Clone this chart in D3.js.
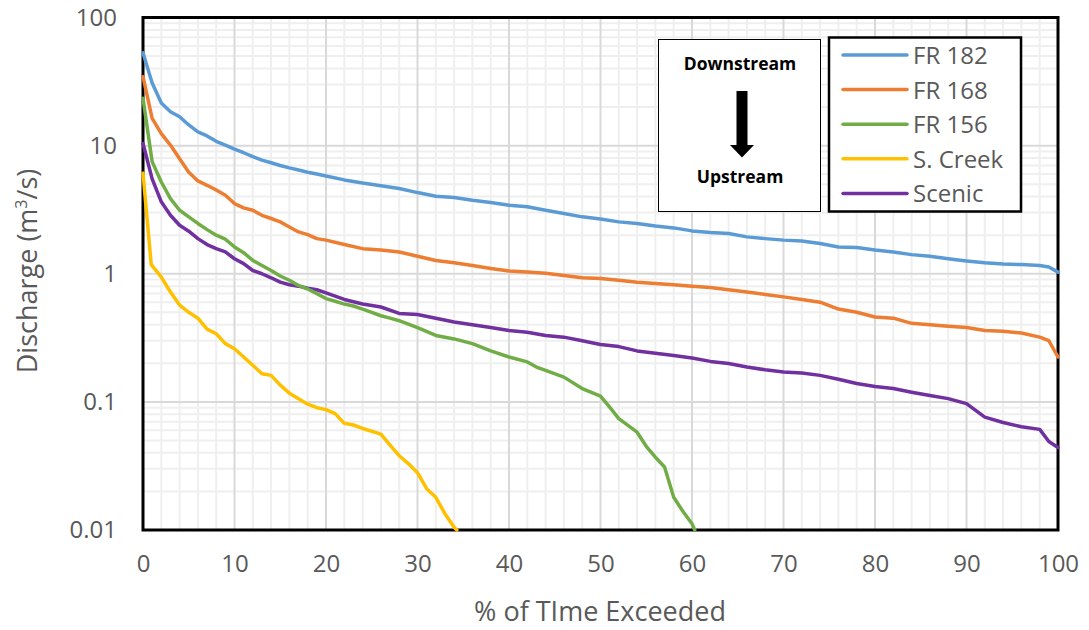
<!DOCTYPE html>
<html>
<head>
<meta charset="utf-8">
<script src="https://cdn.jsdelivr.net/npm/d3@7"></script>
<style>
  html, body { margin: 0; padding: 0; background: #fff; }
  svg { display: block; }
  text { font-family: "Open Sans", "Noto Sans", sans-serif; }
</style>
</head>
<body>
<svg id="chart" width="1089" height="630"></svg>
<script>
// ---------- data ----------
const seriesNames = ["FR 182", "FR 168", "FR 156", "S. Creek", "Scenic"];
const seriesColors = ["#5B9BD5", "#ED7D31", "#70AD47", "#FFC000", "#7030A0"];

const pctMain = [0,1,2,3,4,5,6,7,8,9,10,11,12,13,14,15,16,17,18,19,20,22,24,26,28,30,32,34,36,38,40,42,44,46,48,50,52,54,56,58,60,62,64,66,68,70,72,74,76,78,80,82,84,86,88,90,92,94,96,98,99,100];

const qFR182 = [53,30.8,21.5,18.4,16.8,14.5,12.8,11.9,10.8,10.1,9.4,8.8,8.2,7.7,7.35,7.0,6.7,6.45,6.2,6.0,5.8,5.4,5.1,4.86,4.63,4.3,4.03,3.94,3.75,3.6,3.43,3.33,3.13,2.95,2.78,2.67,2.54,2.47,2.36,2.28,2.16,2.1,2.06,1.94,1.88,1.83,1.80,1.72,1.62,1.60,1.53,1.48,1.41,1.37,1.31,1.26,1.22,1.19,1.18,1.16,1.13,1.03];

const qFR168 = [34.5,16.3,12.4,10.1,7.9,6.2,5.3,4.9,4.5,4.1,3.53,3.27,3.13,2.86,2.7,2.54,2.32,2.12,2.02,1.88,1.83,1.69,1.57,1.53,1.48,1.37,1.27,1.22,1.16,1.10,1.05,1.03,1.01,0.97,0.93,0.92,0.89,0.86,0.84,0.82,0.80,0.78,0.75,0.72,0.69,0.66,0.63,0.60,0.53,0.50,0.46,0.45,0.41,0.40,0.39,0.38,0.36,0.356,0.345,0.32,0.30,0.224];

const qScenic = [10.4,5.5,3.64,2.86,2.39,2.15,1.88,1.69,1.57,1.48,1.31,1.2,1.06,1.0,0.93,0.86,0.82,0.80,0.77,0.75,0.71,0.63,0.58,0.55,0.49,0.48,0.45,0.42,0.40,0.38,0.36,0.35,0.33,0.32,0.30,0.28,0.27,0.25,0.24,0.23,0.22,0.207,0.199,0.187,0.178,0.171,0.168,0.161,0.15,0.139,0.132,0.127,0.119,0.112,0.106,0.097,0.076,0.069,0.064,0.061,0.049,0.044];

const pctFR156 = [0,1,2,3,4,5,6,7,8,9,10,11,12,13,14,15,16,17,18,19,20,21,22,23,24,25,26,27,28,30,32,34,36,38,40,42,43,44,46,48,50,51,52,54,55,56,57,58,59,60,60.3];
const qFR156 = [23.4,7.5,5.2,3.86,3.13,2.78,2.47,2.21,2.0,1.86,1.62,1.46,1.27,1.16,1.06,0.96,0.89,0.81,0.76,0.70,0.64,0.61,0.58,0.56,0.53,0.50,0.47,0.45,0.43,0.38,0.33,0.31,0.285,0.25,0.224,0.205,0.187,0.176,0.156,0.127,0.111,0.091,0.074,0.058,0.045,0.037,0.031,0.018,0.014,0.0112,0.01];

const pctSCreek = [0,0.9,2,3,4,5,6,7,8,9,10,11,12,13,14,15,16,17,18,19,20,21,22,23,24,25,26,27,28,29,30,31,32,33,34,34.3];
const qSCreek = [6.1,1.18,0.94,0.72,0.57,0.50,0.45,0.37,0.34,0.285,0.26,0.224,0.193,0.166,0.161,0.135,0.117,0.106,0.096,0.090,0.087,0.081,0.068,0.066,0.062,0.059,0.056,0.046,0.038,0.033,0.028,0.021,0.018,0.0134,0.0105,0.01];

const xTicks = [0,10,20,30,40,50,60,70,80,90,100];
const yTicks = [0.01,0.1,1,10,100];
const yTickLabels = ["0.01","0.1","1","10","100"];

// ---------- layout ----------
const svg = d3.select("#chart");
const L = 143, R = 1058, T = 17.5, B = 530;

const x = d3.scaleLinear().domain([0, 100]).range([L, R]);
const y = d3.scaleLog().domain([0.01, 100]).range([B, T]);

// gridlines
const minorX = d3.range(0, 101, 2).filter(v => v % 10 !== 0);
const minorY = [];
[0.01, 0.1, 1, 10].forEach(d => { for (let k = 2; k <= 9; k++) minorY.push(d * k); });

const grid = svg.append("g");
grid.selectAll(".mx").data(minorX).join("line")
  .attr("x1", d => x(d)).attr("x2", d => x(d)).attr("y1", T).attr("y2", B)
  .attr("stroke", "#efefef").attr("stroke-width", 2);
grid.selectAll(".my").data(minorY).join("line")
  .attr("x1", L).attr("x2", R).attr("y1", d => y(d)).attr("y2", d => y(d))
  .attr("stroke", "#efefef").attr("stroke-width", 2);
grid.selectAll(".Mx").data(xTicks).join("line")
  .attr("x1", d => x(d)).attr("x2", d => x(d)).attr("y1", T).attr("y2", B)
  .attr("stroke", "#d9d9d9").attr("stroke-width", 2);
grid.selectAll(".My").data(yTicks).join("line")
  .attr("x1", L).attr("x2", R).attr("y1", d => y(d)).attr("y2", d => y(d))
  .attr("stroke", "#d9d9d9").attr("stroke-width", 2);

// plot border
svg.append("rect").attr("x", L).attr("y", T).attr("width", R - L).attr("height", B - T)
  .attr("fill", "none").attr("stroke", "#000").attr("stroke-width", 3);

// axes
const yAxis = d3.axisLeft(y).tickValues(yTicks)
  .tickFormat((d, i) => yTickLabels[i]).tickSize(0).tickPadding(26);
const gy = svg.append("g").attr("transform", `translate(${L},0)`).call(yAxis);
gy.select(".domain").remove();
gy.selectAll("text").attr("fill", "#595959").style("font-size", "24px")
  .style("font-family", "'Open Sans', sans-serif");

const xAxis = d3.axisBottom(x).tickValues(xTicks).tickFormat(d3.format("d"))
  .tickSize(0).tickPadding(25);
const gx = svg.append("g").attr("transform", `translate(0,${B})`).call(xAxis);
gx.select(".domain").remove();
gx.selectAll("text").attr("fill", "#595959").style("font-size", "24px")
  .style("font-family", "'Open Sans', sans-serif");

// axis titles
svg.append("text").attr("x", 600).attr("y", 621).attr("text-anchor", "middle")
  .attr("fill", "#595959").style("font-size", "27px").text("% of TIme Exceeded");

const yt = svg.append("text").attr("transform", "translate(37,271) rotate(-90)")
  .attr("text-anchor", "middle").attr("fill", "#595959").style("font-size", "27px");
yt.append("tspan").text("Discharge (m");
yt.append("tspan").attr("dy", -10).style("font-size", "16px").text("3");
yt.append("tspan").attr("dy", 10).text("/s)");

// series lines
const seriesX = [pctMain, pctMain, pctFR156, pctSCreek, pctMain];
const seriesY = [qFR182, qFR168, qFR156, qSCreek, qScenic];
const line = d3.line().x(d => x(d[0])).y(d => y(d[1])).curve(d3.curveLinear);
const drawOrder = [4, 3, 2, 1, 0];
drawOrder.forEach(i => {
  const pts = seriesX[i].map((p, j) => [p, seriesY[i][j]]);
  svg.append("path").datum(pts).attr("d", line)
    .attr("fill", "none").attr("stroke", seriesColors[i]).attr("stroke-width", 3.5)
    .attr("stroke-linejoin", "round").attr("stroke-linecap", "round");
});

// annotation box
svg.append("rect").attr("x", 658.5).attr("y", 39.5).attr("width", 162).attr("height", 172)
  .attr("fill", "#fff").attr("stroke", "#000").attr("stroke-width", 1);
svg.append("text").attr("x", 740).attr("y", 70).attr("text-anchor", "middle")
  .attr("fill", "#000").style("font-weight", "bold").style("font-size", "17.5px").text("Downstream");
svg.append("text").attr("x", 740).attr("y", 183).attr("text-anchor", "middle")
  .attr("fill", "#000").style("font-weight", "bold").style("font-size", "17.5px").text("Upstream");
svg.append("path")
  .attr("d", "M736.5,91 L747.5,91 L747.5,145 L754,145 L742,157.5 L730,145 L736.5,145 Z")
  .attr("fill", "#000");

// legend
svg.append("rect").attr("x", 829).attr("y", 37.5).attr("width", 192).attr("height", 174)
  .attr("fill", "#fff").attr("stroke", "#000").attr("stroke-width", 2.5);
const lg = svg.append("g");
seriesNames.forEach((name, i) => {
  const cy = 55 + i * 34.6;
  lg.append("line").attr("x1", 843).attr("x2", 907).attr("y1", cy).attr("y2", cy)
    .attr("stroke", seriesColors[i]).attr("stroke-width", 3.5).attr("stroke-linecap", "round");
  lg.append("text").attr("x", 913).attr("y", cy + 9).attr("fill", "#595959")
    .style("font-size", "24px").text(name);
});
</script>
</body>
</html>
